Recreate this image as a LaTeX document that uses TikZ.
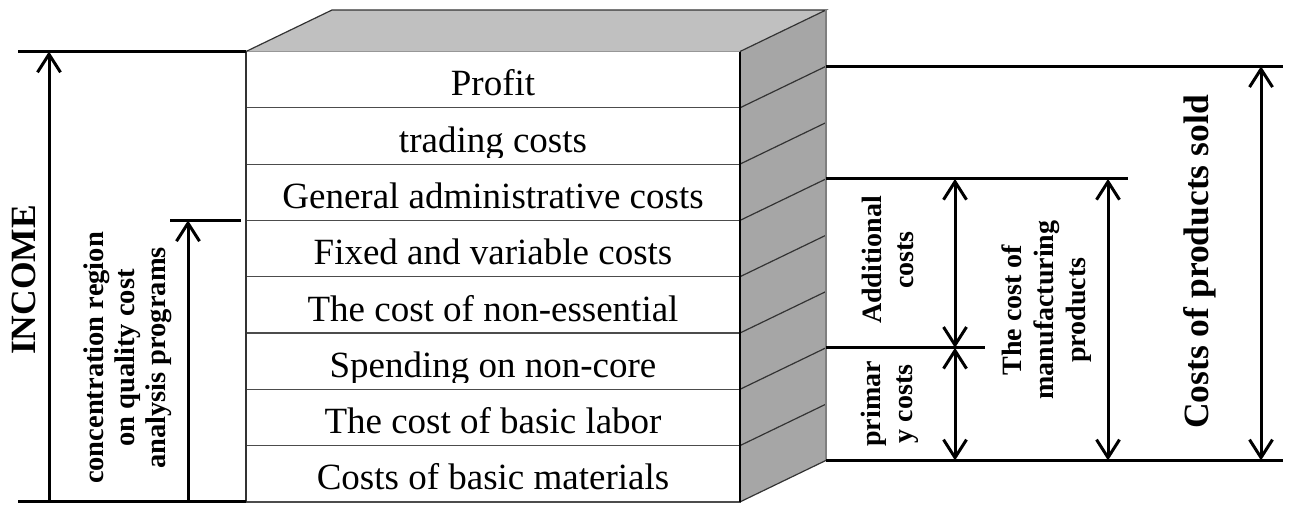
\documentclass[tikz,border=0pt]{standalone}
\usepackage{fontspec}
\setmainfont{Liberation Serif}
\usetikzlibrary{arrows.meta, calc, positioning}
\definecolor{TopGray}{HTML}{C0C0C0}
\definecolor{SideGray}{HTML}{A6A6A6}
\definecolor{EdgeGray}{HTML}{7F7F7F}
\tikzset{
  % Box styles
  rowbox/.style={rectangle, draw=black!70, line width=1.2pt, fill=white, minimum width=494pt, minimum height=56.3pt, inner sep=0pt, outer sep=0pt},
  rowlabel/.style={font=\fontsize{37}{40}\selectfont, inner sep=0pt, anchor=base},
  % Label styles
  dimlabel/.style={font=\fontsize{28}{32}\selectfont\bfseries, align=center, rotate=90, inner sep=0pt},
  biglabel/.style={font=\fontsize{35.5}{40}\selectfont\bfseries, rotate=90, inner sep=0pt, anchor=base},
  % Line styles
  extline/.style={line width=3pt},
  edgeline/.style={draw=black!80, line width=1.2pt},
  dimarrow/.style={line width=3pt, -{Straight Barb[length=18pt, width=23pt]}},
  dimboth/.style={line width=3pt, {Straight Barb[length=18pt, width=23pt]}-{Straight Barb[length=18pt, width=23pt]}}
}

\begin{document}
\begin{tikzpicture}[x=1pt, y=-1pt]
  \useasboundingbox (0,0) rectangle (1292,504);

  % Front of the block
  \foreach \txt [count=\i] in {Profit, trading costs, General administrative costs, Fixed and variable costs, The cost of non-essential, Spending on non-core, The cost of basic labor, Costs of basic materials} {
    \node[rowbox] (r\i) at (493, {51.5+(\i-0.5)*56.3}) {};
    \begin{scope}
      \clip (r\i.north west) rectangle ($(r\i.south east)+(0,-7)$);
      \node[rowlabel] (t\i) at ($(r\i.south)+(0,-12)$) {\txt};
    \end{scope}
  }

  % Side and top
  \coordinate (s0) at ($(r1.north east)+(86,-41.5)$);
  \foreach \i in {1,...,8}
    \coordinate (s\i) at ($(r\i.south east)+(86,-41.5)$);
  \fill[SideGray] (r1.north east) -- (s0) -- (s8) -- (r8.south east) -- cycle;
  \fill[TopGray] (r1.north west) -- ++(86,-41.5) -- (s0) -- (r1.north east) -- cycle;
  \draw[edgeline] (r1.north west) -- ++(86,-41.5) -- (s0) -- (r1.north east);
  \foreach \i in {1,...,8}
    \draw[edgeline] (r\i.south east) -- (s\i);
  \draw[EdgeGray, line width=2pt] (s0) -- (s8);
  \draw[line width=2.5pt] (r1.north east) -- (r8.south east);
  \draw[edgeline] (r1.north west) -- (r8.south west);

  % Dimension ends
  \coordinate (lEnd) at (18,0);
  \coordinate (inc) at (49,0);
  \coordinate (qEnd) at (170,0);
  \coordinate (qa) at (188,0);
  \coordinate (ad) at (955,0);
  \coordinate (aEnd) at (985,0);
  \coordinate (mf) at (1108,0);
  \coordinate (mEnd) at (1128,0);
  \coordinate (cs) at (1261,0);
  \coordinate (rEnd) at (1283,0);

  % Income
  \draw[extline] (r1.north west) -- (r1.north west -| lEnd);
  \draw[extline] (r8.south west) -- (r8.south west -| lEnd);
  \draw[dimarrow] (r8.south west -| inc) -- (r1.north west -| inc);
  \draw[extline] ($(r3.south west)+(-5,0)$) -- (r3.south west -| qEnd);
  \draw[dimarrow] (r8.south west -| qa) -- (r3.south west -| qa);

  % Costs of products sold
  \draw[extline] (s1) -- (s1 -| rEnd);
  \draw[extline] (s8) -- (s8 -| rEnd);
  \draw[dimboth] (s1 -| cs) -- (s8 -| cs);
  \draw[extline] (s3) -- (s3 -| mEnd);
  \draw[dimboth] (s3 -| mf) -- (s8 -| mf);
  \draw[extline] (s6) -- (s6 -| aEnd);
  \draw[dimboth] (s3 -| ad) -- (s6 -| ad);
  \draw[dimboth] (s6 -| ad) -- (s8 -| ad);

  % Labels
  \node[biglabel] (income) at (35,280) {INCOME};
  \node[dimlabel, font=\fontsize{28.5}{31}\selectfont\bfseries] (focus) at (128,358) {concentration region\\on quality cost\\analysis programs};
  \node[dimlabel] (addl) at (888,260) {Additional\\costs};
  \node[dimlabel] (prim) at (890,404) {primar\\y costs};
  \node[dimlabel] (manuf) at (1047,310) {The cost of\\manufacturing\\products};
  \node[biglabel] (sold) at (1208,262) {Costs of products sold};
\end{tikzpicture}
\end{document}
